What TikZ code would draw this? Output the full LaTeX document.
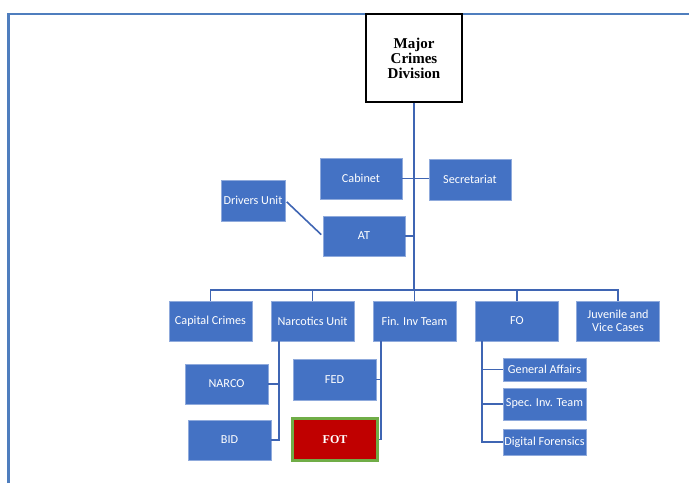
\documentclass[tikz,border=0pt]{standalone}
\usepackage{fontspec}
\setmainfont{Carlito}
\newfontfamily\headFont{Liberation Serif}
\usepackage{xcolor}
\usepackage{tikz}
\usetikzlibrary{calc}
\definecolor{unitBlue}{HTML}{4472C4}
\definecolor{unitEdge}{HTML}{8FAADC}
\definecolor{lineBlue}{HTML}{3F65B3}
\definecolor{frameBlue}{HTML}{4F7EBE}
\definecolor{fotRed}{HTML}{C00000}
\definecolor{fotGreen}{HTML}{70AD47}
\newcommand{\unitWidth}{83}
\newcommand{\unitHeight}{40}
\newcommand{\barY}{290}
\newcommand{\rowY}{321}
\newcommand{\stemOffset}{8}
\newcommand{\topUnits}{capital/210.5/{Capital Crimes}, narcotics/312.5/{Narcotics Unit}, fininv/414.5/{Fin. Inv Team}, fo/517/FO, juvenile/618/{Juvenile and\\Vice Cases}}
\tikzset{
	unit/.style={draw=unitEdge, line width=.6pt, fill=unitBlue, text=white, font=\fontsize{12.2}{13.5}\selectfont, align=center, inner sep=.5pt, minimum width=\unitWidth pt, minimum height=\unitHeight pt},
	link/.style={draw=lineBlue, line width=1.6pt},
}

\begin{document}
\begin{tikzpicture}[x=1pt, y=-1pt]
	\useasboundingbox (0,0) rectangle (689,483);
	\draw[draw=frameBlue, line width=2.2pt] (8.5,483) -- (8.5,14) -- (689,14);
	
	\node[draw=black, line width=1.2pt, fill=white, minimum width=96pt, minimum height=88pt, align=center, font=\headFont\bfseries\fontsize{15}{15}\selectfont] (mcd) at (414,58) {Major\\Crimes\\Division};
	
	\node[unit, minimum width=82pt, minimum height=41pt] (cabinet) at (361,178.5) {Cabinet};
	\node[unit, minimum width=82pt, minimum height=41pt] (secretariat) at (470,179.5) {Secretariat};
	\node[unit, minimum width=64pt, minimum height=41pt] (drivers) at (253,200.5) {Drivers Unit};
	\node[unit, minimum width=82pt] (at) at (364,236) {AT};
	
	\foreach \name/\xpos/\label in \topUnits
	{
		\node[unit] (\name) at (\xpos,\rowY) {\label};
	}
	
	\node[unit] (narco) at (226.5,384) {NARCO};
	\node[unit] (bid) at (229.5,440) {BID};
	\node[unit, minimum height=41pt] (fed) at (334.5,379.5) {FED};
	\node[unit, fill=fotRed, draw=fotGreen, line width=3pt, minimum width=85pt, minimum height=42pt, font=\headFont\bfseries\fontsize{12}{14}\selectfont] (fot) at (335,439.5) {FOT};
	\node[unit, minimum height=23pt] (genaff) at (544.5,369.5) {General Affairs};
	\node[unit, minimum height=32pt] (specinv) at (544.5,404) {Spec. Inv. Team};
	\node[unit, minimum height=26pt] (digfor) at (544.5,442) {Digital Forensics};
	
	% trunk and bar
	\coordinate (bar) at (414,\barY);
	\draw[link] (mcd) -- (bar);
	\foreach \name in {capital,narcotics,fininv,fo,juvenile}
	{
		\draw[link] (\name.north) |- (bar);
	}
	\draw[link] (cabinet.east) -- (cabinet.east -| secretariat.west);
	\draw[link] (at.east) -- (at.east -| mcd.south);
	\draw[link, shorten <=2pt, shorten >=2pt] (drivers.east) -- (at.west);
	
	% sub units
	\coordinate (narcStem) at ($(narcotics.south west)+(\stemOffset,0)$);
	\coordinate (finStem) at ($(fininv.south west)+(\stemOffset,0)$);
	\coordinate (foStem) at ($(fo.south west)+(6.5,0)$);
	\draw[link] (narcStem) |- (bid.east);
	\draw[link] (narco.east) -- (narco.east -| narcStem);
	\draw[link] (finStem) |- (fot.east);
	\draw[link] (fed.east) -- (fed.east -| finStem);
	\draw[link] (foStem) |- (digfor.west);
	\foreach \name in {genaff,specinv}
	{
		\draw[link] (\name.west) -- (\name.west -| foStem);
	}
\end{tikzpicture}
\end{document}
